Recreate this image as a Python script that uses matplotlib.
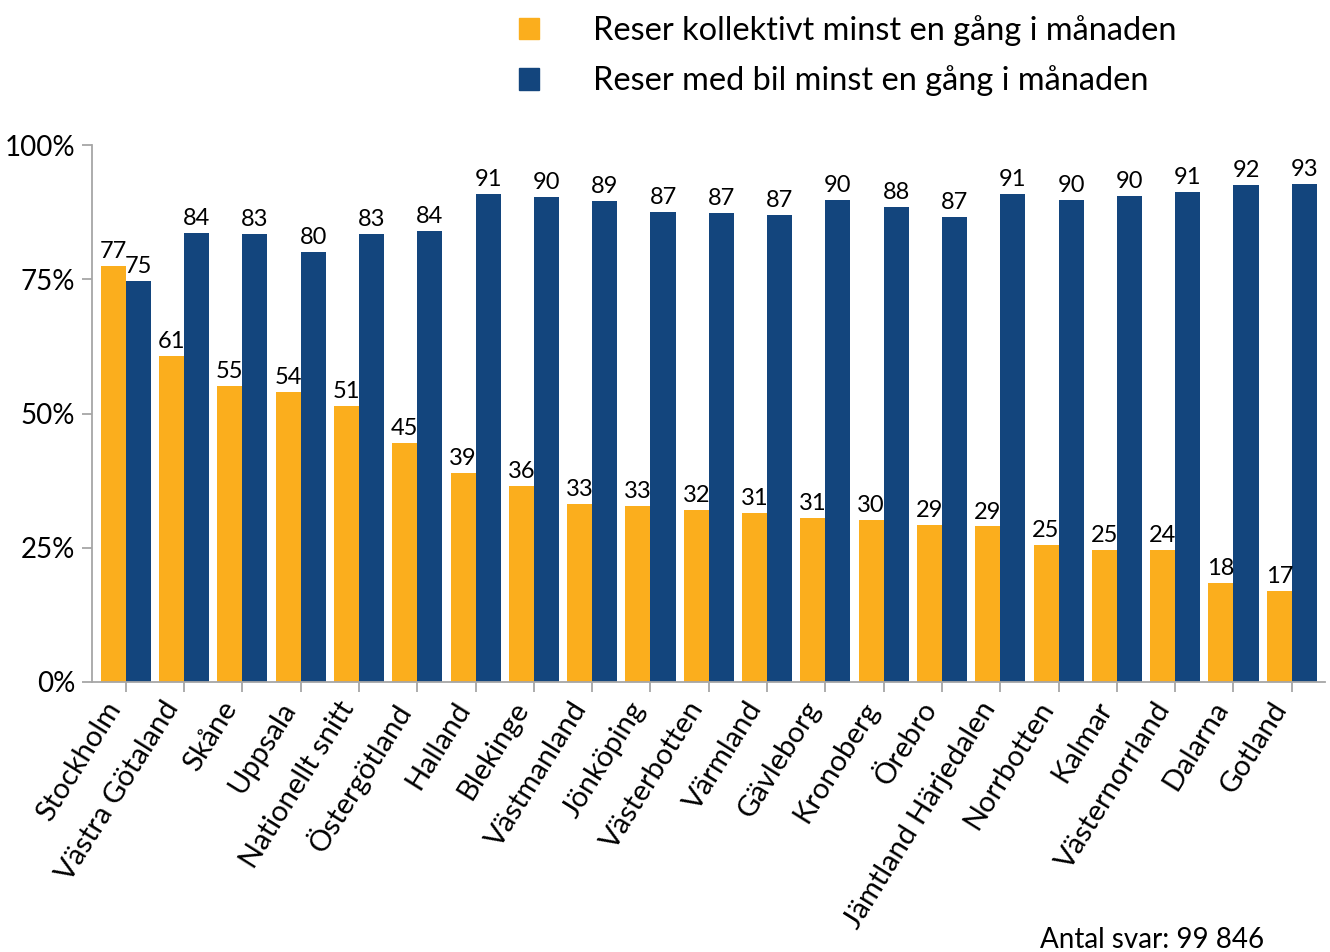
import matplotlib.pyplot as plt
import numpy as np
from matplotlib.patches import Patch

plt.rcParams['font.family'] = ['Lato', 'DejaVu Sans']

# Data (percent)
regions = ["Stockholm", "Västra Götaland", "Skåne", "Uppsala", "Nationellt snitt",
           "Östergötland", "Halland", "Blekinge", "Västmanland", "Jönköping",
           "Västerbotten", "Värmland", "Gävleborg", "Kronoberg", "Örebro",
           "Jämtland Härjedalen", "Norrbotten", "Kalmar", "Västernorrland",
           "Dalarna", "Gotland"]
kollektivt = [77.5, 60.7, 55.1, 54.0, 51.4, 44.5, 38.9, 36.5, 33.1, 32.8,
              32.0, 31.5, 30.5, 30.2, 29.2, 29.0, 25.5, 24.6, 24.6, 18.4, 16.9]
bil = [74.7, 83.6, 83.4, 80.1, 83.4, 84.0, 90.9, 90.3, 89.6, 87.5,
       87.3, 87.0, 89.8, 88.5, 86.6, 90.9, 89.8, 90.5, 91.2, 92.6, 92.7]
kollektivt_labels = [77, 61, 55, 54, 51, 45, 39, 36, 33, 33, 32, 31, 31, 30, 29, 29, 25, 25, 24, 18, 17]
bil_labels = [75, 84, 83, 80, 83, 84, 91, 90, 89, 87, 87, 87, 90, 88, 87, 91, 90, 90, 91, 92, 93]
series_names = ["Reser kollektivt minst en gång i månaden",
                "Reser med bil minst en gång i månaden"]

orange = "#FBAE1D"
blue = "#13457D"
grey = "#A6A6A6"

fig = plt.figure(figsize=(13.3, 9.52), dpi=100)
ax = fig.add_axes([92 / 1330, 1 - 682 / 952, (1325 - 92) / 1330, (682 - 145) / 952])

x = np.arange(len(regions))
w = 0.43
b1 = ax.bar(x - w / 2, kollektivt, w, color=orange)
b2 = ax.bar(x + w / 2, bil, w, color=blue)

for rect, lab in zip(b1, kollektivt_labels):
    ax.text(rect.get_x() + rect.get_width() / 2, rect.get_height() + 0.7, str(lab),
            ha="center", va="bottom", fontsize=17)
for rect, lab in zip(b2, bil_labels):
    ax.text(rect.get_x() + rect.get_width() / 2, rect.get_height() + 0.7, str(lab),
            ha="center", va="bottom", fontsize=17)

ax.set_xlim(-0.58, len(regions) - 0.43)
ax.set_ylim(0, 100)
ax.set_yticks([0, 25, 50, 75, 100])
ax.set_yticklabels(["0%", "25%", "50%", "75%", "100%"], fontsize=20)
ax.set_xticks(x)
ax.set_xticklabels(regions, rotation=58, ha="right", fontsize=21)

for s in ["top", "right"]:
    ax.spines[s].set_visible(False)
for s in ["left", "bottom"]:
    ax.spines[s].set_color(grey)
    ax.spines[s].set_linewidth(1.3)
ax.tick_params(axis="y", length=7.2, color=grey, width=1.3, pad=5)
ax.tick_params(axis="x", length=7.2, color=grey, width=1.3, pad=3.6)

handles = [Patch(color=orange), Patch(color=blue)]
fig.legend(handles, series_names, loc="upper left", bbox_to_anchor=(490 / 1330, 1.015),
           frameon=False, fontsize=23.4, handlelength=0.62, handleheight=0.62,
           handletextpad=1.65, labelspacing=0.6)

fig.text(1040 / 1330, 1 - 948 / 952, "Antal svar: 99 846", fontsize=20, va="baseline")

fig.savefig("out.png", dpi=100)
